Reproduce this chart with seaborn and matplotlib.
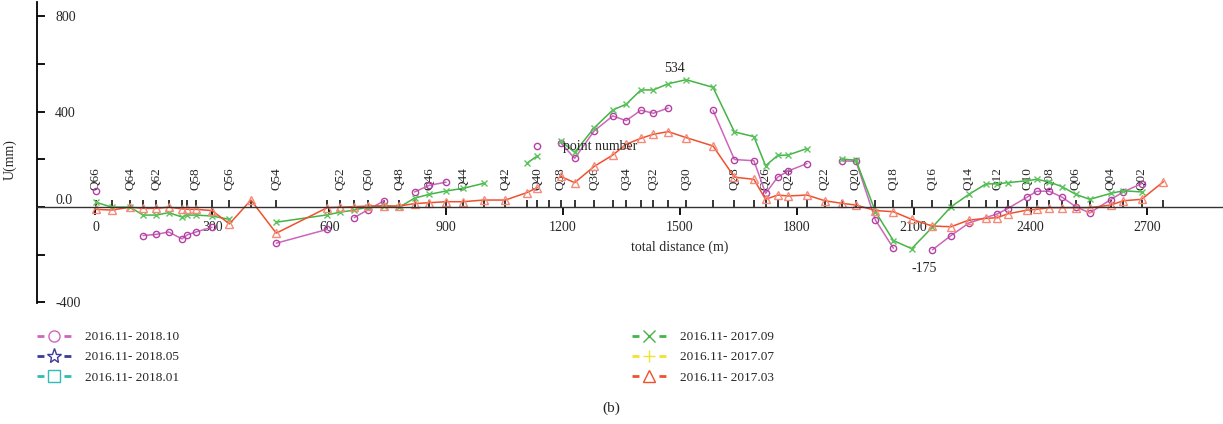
import numpy as np
import pandas as pd
import matplotlib
matplotlib.use("Agg")
import matplotlib.pyplot as plt
import seaborn as sns
from matplotlib.lines import Line2D

nan = np.nan

# survey points along the section (Q66 at the start of the line)
point_names = [f"Q{i:02d}" for i in range(66, 0, -1)]
distance_m = [1, 42, 89, 122, 156, 188, 222, 236, 258, 299,
              344, 399, 464, 595, 628, 664, 700, 741, 780, 819,
              857, 900, 944, 996, 1052, 1107, 1134, 1163, 1194, 1230,
              1280, 1328, 1362, 1400, 1432, 1470, 1516, 1585, 1640, 1690,
              1720, 1751, 1778, 1826, 1872, 1917, 1952, 2002, 2048, 2095,
              2148, 2196, 2242, 2286, 2315, 2341, 2392, 2416, 2448, 2481,
              2516, 2552, 2606, 2638, 2685, 2741]
unlabelled = ["Q60"]

# displacement U (mm), same order as point_names
u_2018_10 = [68, nan, nan, -120, -115, -105, -134, -117, -105, -85,
             nan, nan, -152, -94, nan, -45, -11, 26, nan, 63,
             91, 104, nan, nan, nan, nan, 257, nan, 270, 204,
             319, 382, 362, 406, 393, 415, nan, 406, 199, 194,
             57, 125, 151, 182, nan, 193, 192, -55, -173, nan,
             -180, -120, -67, nan, -29, -7, 42, 66, 66, 41,
             1, -25, 31, 63, 98, nan]
u_2017_09 = [20, -1, -1, -34, -34, -24, -42, -34, -34, -38,
             -52, nan, -64, -33, -22, -13, 0, 5, -1, 37,
             53, 67, 78, 99, nan, 183, 214, nan, 278, 229,
             332, 407, 431, 491, 491, 517, 534, 502, 315, 295,
             173, 216, 218, 245, nan, 201, 196, -20, -141, -175,
             -85, 1, 53, 97, 97, 102, 110, 116, 105, 85,
             53, 32, 57, 68, 63, nan]
u_2017_03 = [-10, -13, -1, -6, -6, -1, -8, -10, -10, -15,
             -71, 29, -110, -3, -1, 1, 4, 4, 4, 14,
             18, 22, 22, 29, 29, 60, 81, nan, 128, 102,
             170, 218, 263, 288, 305, 316, 291, 256, 125, 116,
             32, 50, 46, 50, 26, 15, 8, -15, -20, -52,
             -80, -83, -55, -48, -45, -29, -13, -10, -3, -3,
             -3, -3, 8, 26, 32, 106]
# missing readings the line still runs across
bridged_2018_10 = ["Q13"]

# (label, values, line colour, marker, marker colour)
series = [
    ("2016.11- 2018.10", u_2018_10, "#cc66bb", "o", "#b440a4"),
    ("2016.11- 2018.05", None, "#3c3c96", "*", "#3c3c96"),
    ("2016.11- 2018.01", None, "#2ebcb4", "s", "#2ebcb4"),
    ("2016.11- 2017.09", u_2017_09, "#44b444", "x", "#5cc45c"),
    ("2016.11- 2017.07", None, "#f2e12e", "+", "#f2e12e"),
    ("2016.11- 2017.03", u_2017_03, "#f0502d", "^", "#f58a78"),
]
marker_size = {"o": 4.5, "x": 5, "^": 5.5}
legend_marker_size = {"o": 8, "*": 11, "s": 8, "x": 8, "+": 9, "^": 8}


def to_segments(values, bridged=()):
    rows, seg = [], 0
    for name, d, v in zip(point_names, distance_m, values):
        if np.isnan(v):
            if name not in bridged:
                seg += 1
            continue
        rows.append((d, v, seg))
    return pd.DataFrame(rows, columns=["distance", "U", "seg"])


sns.set_theme(style="white")
plt.rcParams["font.family"] = ["Liberation Serif", "DejaVu Serif"]
plt.rcParams["axes.unicode_minus"] = False

fig = plt.figure(figsize=(12.23, 4.24), dpi=100)
ax = fig.add_axes([37 / 1223, 1 - 303 / 424, 1 - 37 / 1223, 301 / 424])

for label, values, color, marker, mcolor in series:
    if values is None:
        continue
    df = to_segments(values, bridged_2018_10 if values is u_2018_10 else ())
    sns.lineplot(data=df, x="distance", y="U", units="seg", estimator=None,
                 sort=False, color=color, linewidth=1.1, marker=marker,
                 markersize=marker_size[marker], markerfacecolor="none",
                 markeredgecolor=mcolor, markeredgewidth=1.0,
                 legend=False, ax=ax)

ax.set_xlim(-150, 2894)
ax.set_ylim(-403, 860)

# axes: x axis drawn through U = 0
for s in ["top", "right"]:
    ax.spines[s].set_visible(False)
ax.spines["bottom"].set_position(("data", 0))
ax.spines["bottom"].set_color("#333333")
ax.spines["bottom"].set_linewidth(1.0)
ax.spines["left"].set_color("black")
ax.spines["left"].set_linewidth(1.3)

ax.set_xticks(range(0, 2701, 300))
ax.tick_params(axis="x", bottom=True, direction="out", length=6, width=1.3,
               color="black", pad=4, labelsize=10)

yticks = list(range(-400, 801, 200))
ylabels = {800: "800", 400: "400", 0: "0.0", -400: "-400"}
ax.set_yticks(yticks, labels=[ylabels.get(t, "") for t in yticks])
ax.tick_params(axis="y", left=True, direction="in", length=6, width=1.3,
               color="black", pad=-13, labelsize=10)
for t, lab in zip(yticks, ax.get_yticklabels()):
    lab.set_horizontalalignment("left")
    if t == 0:
        lab.set_verticalalignment("bottom")

ax.set_xlabel("total distance (m)", fontsize=10)
ax.xaxis.set_label_coords((680 - 37) / 1186, (303 - 241) / 301)
ax.set_ylabel("U(mm)", fontsize=10)
ax.yaxis.set_label_coords(-20 / 1186, (303 - 160) / 301)

# point ticks and names above the axis line
sec = ax.secondary_xaxis(0, transform=ax.transData)
sec.set_alignment("top")
for s in sec.spines.values():
    s.set_visible(False)
point_labels = [n if int(n[1:]) % 2 == 0 and n not in unlabelled else ""
                for n in point_names]
sec.set_xticks(distance_m, labels=point_labels)
sec.tick_params(axis="x", top=True, labeltop=True, direction="out", length=5,
                width=1.1, color="black", pad=7.5, labelsize=9.5,
                labelrotation=90)

ax.text(1295, 252, "point number", ha="center", va="center", fontsize=10)

imax = int(np.nanargmax(u_2017_09))
imin = int(np.nanargmin(u_2017_09))
ax.annotate(f"{u_2017_09[imax]:.0f}", xy=(distance_m[imax], u_2017_09[imax]),
            xytext=(-8, 8), textcoords="offset points", ha="center",
            va="center", fontsize=10)
ax.annotate(f"{u_2017_09[imin]:.0f}", xy=(distance_m[imin], u_2017_09[imin]),
            xytext=(9, -14), textcoords="offset points", ha="center",
            va="center", fontsize=10)

handles = [Line2D([], [], color=c, linewidth=2, dashes=(2.5, 7.2),
                  marker=m, markersize=legend_marker_size[m],
                  markerfacecolor="none", markeredgecolor=c,
                  markeredgewidth=1.0)
           for _, _, c, m, _ in series]
fig.legend(handles, [s[0] for s in series], ncol=2, loc="upper left",
           bbox_to_anchor=(37 / 1223, 1 - 331 / 424), frameon=False,
           borderpad=0, borderaxespad=0, handlelength=2.58,
           handletextpad=1.06, columnspacing=34.3, labelspacing=0.6,
           fontsize=9.5)

fig.text(611 / 1223, 1 - 408 / 424, "(b)", ha="center", va="center",
         fontsize=11)

fig.savefig("out.png", dpi=100)
